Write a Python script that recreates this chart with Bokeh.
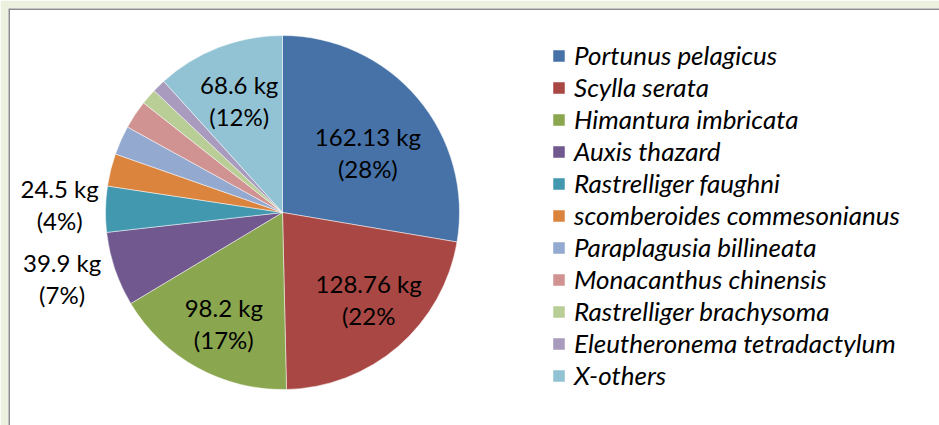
import math
from bokeh.plotting import figure
from bokeh.models import Range1d, Legend, LegendItem, Span, ColumnDataSource
from bokeh.core.properties import value
from bokeh.embed import file_html
from bokeh.resources import INLINE

# ---- data ----
species = ["Portunus pelagicus", "Scylla serata", "Himantura imbricata", "Auxis thazard",
           "Rastrelliger faughni", "scomberoides commesonianus", "Paraplagusia billineata",
           "Monacanthus chinensis", "Rastrelliger brachysoma", "Eleutheronema tetradactylum",
           "X-others"]
weights_kg = [162.13, 128.76, 98.2, 39.9, 24.5, 17.4, 15.6, 15.3, 8.5, 7.1, 68.6]
slice_labels = ["162.13 kg\n(28%)", "128.76 kg\n(22%", "98.2 kg\n(17%)", "39.9 kg\n(7%)",
                "24.5 kg\n(4%)", "", "", "", "", "", "68.6 kg\n(12%)"]
colors = ["#4672A8", "#A84743", "#8AA64F", "#71588F", "#4198AF", "#DB843D",
          "#93A9CF", "#D19392", "#B9CD96", "#A99BBD", "#92C3D4"]

# ---- layout (label placement: radius fraction and angular nudge in degrees, clockwise) ----
label_r = [0.59, 0.69, 0.71, 1.30, 1.26, 0, 0, 0, 0, 0, 0.68]
label_dtheta = [5, -4, -1, 2, 1, 0, 0, 0, 0, 0, 0]

W, H = 939, 425
FW, FH = 931, 417          # white frame area
CX, CY, R = 274, 213, 177

total = sum(weights_kg)
starts, ends, lx, ly = [], [], [], []
cum = 0.0
for w, rf, dt in zip(weights_kg, label_r, label_dtheta):
    f0 = cum / total
    cum += w
    f1 = cum / total
    starts.append(math.pi / 2 - f1 * 2 * math.pi)
    ends.append(math.pi / 2 - f0 * 2 * math.pi)
    mid = math.pi / 2 - (f0 + f1) / 2 * 2 * math.pi - math.radians(dt)
    lx.append(CX + rf * R * math.cos(mid))
    ly.append(CY + rf * R * math.sin(mid))

src = ColumnDataSource(dict(species=species, w=weights_kg, start=starts, end=ends, color=colors))
lsrc = ColumnDataSource(dict(x=lx, y=ly, text=slice_labels))

p = figure(width=W, height=H, output_backend="svg", toolbar_location=None,
           x_range=Range1d(0, FW), y_range=Range1d(0, FH),
           x_axis_type=None, y_axis_type=None,
           min_border_left=8, min_border_top=8, min_border_right=0, min_border_bottom=0)
p.grid.visible = False
p.outline_line_color = None
p.background_fill_color = "white"
p.border_fill_color = "#EBF1DE"

wr = p.wedge(x=CX, y=CY, radius=R, start_angle="start", end_angle="end",
             fill_color="color", line_color="white", line_width=0.7, line_alpha=0.7,
             source=src)

p.text(x="x", y="y", text="text", source=lsrc, text_font=value("Lato"),
       text_font_size="24px", text_align="center", text_baseline="middle",
       text_line_height=1.1, text_color="black")

items = [LegendItem(label=s, renderers=[wr], index=i) for i, s in enumerate(species)]
legend = Legend(items=items, location=(543, 34), orientation="vertical",
                border_line_color=None, background_fill_alpha=0, padding=0, margin=0,
                spacing=0, label_height=32, glyph_height=15, glyph_width=15,
                label_standoff=8, label_text_font="Lato", label_text_font_style="italic",
                label_text_font_size="26px", label_text_color="black")
p.add_layout(legend)

p.add_layout(Span(location=0, dimension="height", line_color="#8c8c8c", line_width=3))
p.add_layout(Span(location=FH, dimension="width", line_color="#8c8c8c", line_width=3))

open("out.html", "w").write(file_html(p, INLINE))
